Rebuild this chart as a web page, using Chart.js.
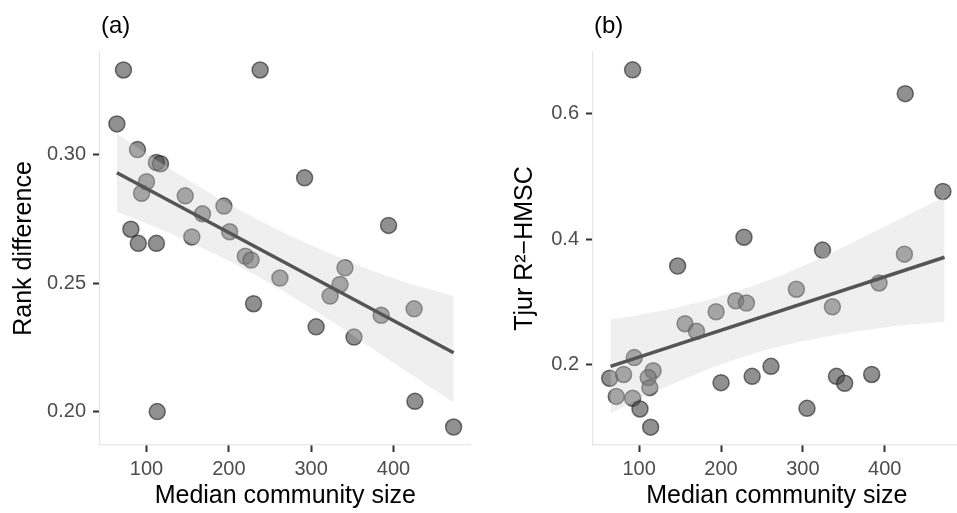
<!DOCTYPE html>
<html>
<head>
<meta charset="utf-8">
<script src="https://cdn.jsdelivr.net/npm/chart.js@4.4.1/dist/chart.umd.min.js"></script>
<style>
  html, body { margin:0; padding:0; background:#fff; overflow:hidden; }
  #wrap { position:relative; width:957px; height:513px; overflow:hidden; }
  canvas { position:absolute; top:0; }
</style>
</head>
<body>
<div id="wrap">
  <canvas id="chartA" width="480" height="513" style="left:0"></canvas>
  <canvas id="chartB" width="490" height="513" style="left:480px"></canvas>
</div>
<script>
// panel (a): rank difference vs median community size
const xA = [72,238,64,89,112,117,100,94,147,292,194,168,201,155,81,90,112,394,220,227,341,262,335,323,230,385,425,306,352,113,426,473];
const yA = [0.333,0.333,0.312,0.302,0.297,0.2965,0.2895,0.285,0.284,0.291,0.280,0.277,0.270,0.268,0.271,0.2655,0.2655,0.2725,0.2605,0.259,0.256,0.252,0.2495,0.245,0.242,0.2375,0.240,0.233,0.229,0.200,0.204,0.194];
const fitXA = [64,473];
const fitYA = [0.293,0.2229];
const bandXA = [64,100,150,220,300,400,473];
const bandHiA = [0.3082,0.3005,0.2903,0.2773,0.2648,0.2519,0.2450];
const bandLoA = [0.2778,0.2732,0.2663,0.2553,0.2402,0.2190,0.2035];
const yTicksA = [0.20,0.25,0.30];
const yTickLabelsA = ['0.20','0.25','0.30'];

// panel (b): Tjur R2 - HMSC vs median community size
const xB = [92,425,471,228,324,424,147,393,292,218,231,336,194,156,170,94,261,117,64,81,111,200,238,341,351,384,113,72,92,101,305,114];
const yB = [0.670,0.632,0.476,0.403,0.3825,0.376,0.357,0.330,0.320,0.3016,0.298,0.292,0.284,0.265,0.253,0.211,0.197,0.190,0.178,0.184,0.179,0.171,0.181,0.181,0.170,0.184,0.163,0.149,0.146,0.129,0.130,0.100];
const fitXB = [65,473];
const fitYB = [0.197,0.371];
const bandXB = [65,100,150,220,300,400,473];
const bandHiB = [0.272,0.279,0.292,0.317,0.357,0.420,0.467];
const bandLoB = [0.122,0.145,0.174,0.209,0.237,0.259,0.268];
const yTicksB = [0.2,0.4,0.6];
const yTickLabelsB = ['0.2','0.4','0.6'];

const xTicks = [100,200,300,400];
const xTickLabels = ['100','200','300','400'];

const FONT = '"Liberation Sans", Arial, sans-serif';

const zip = (xs, ys) => xs.map((x, i) => ({x: x, y: ys[i]}));

// "(a)" / "(b)" tag above the plot area
const panelLabel = {
  id: 'panelLabel',
  afterDraw(chart, args, opts) {
    const ctx = chart.ctx;
    ctx.save();
    ctx.font = '24px ' + FONT;
    ctx.fillStyle = '#000';
    ctx.textBaseline = 'middle';
    ctx.textAlign = 'left';
    ctx.fillText(opts.text, chart.chartArea.left + 1, 26);
    ctx.restore();
  }
};

function makePanel(id, cfg) {
  return new Chart(document.getElementById(id), {
    type: 'scatter',
    data: {
      datasets: [
        {
          data: zip(cfg.x, cfg.y),
          order: 3,
          pointRadius: 8,
          pointBackgroundColor: 'rgba(70,70,70,0.6)',
          pointBorderColor: 'rgba(30,30,30,0.6)',
          pointBorderWidth: 1.5,
          clip: false
        },
        {
          type: 'line',
          data: zip(cfg.bandX, cfg.bandHi),
          order: 2,
          borderWidth: 0,
          pointRadius: 0,
          tension: 0.4,
          backgroundColor: 'rgba(208,208,208,0.34)',
          fill: '+1'
        },
        {
          type: 'line',
          data: zip(cfg.bandX, cfg.bandLo),
          order: 2,
          borderWidth: 0,
          pointRadius: 0,
          tension: 0.4,
          fill: false
        },
        {
          type: 'line',
          data: zip(cfg.fitX, cfg.fitY),
          order: 1,
          borderColor: '#555555',
          borderWidth: 3.5,
          pointRadius: 0,
          fill: false
        }
      ]
    },
    options: {
      responsive: false,
      animation: false,
      events: [],
      layout: { padding: { top: 52, right: cfg.padRight, left: 0, bottom: 0 } },
      plugins: {
        legend: { display: false },
        tooltip: { enabled: false },
        panelLabel: { text: cfg.label }
      },
      scales: {
        x: {
          type: 'linear',
          min: cfg.xMin, max: cfg.xMax,
          afterFit: s => { s.height = 68; },
          afterBuildTicks: s => { s.ticks = xTicks.map(v => ({value: v})); },
          border: { display: true, color: '#e6e6e6', width: 1.2 },
          grid: { display: true, drawOnChartArea: false, drawTicks: true, tickLength: 7, tickColor: '#333', tickWidth: 2 },
          ticks: { padding: 5, color: '#4d4d4d', font: { family: FONT, size: 20 }, callback: (v, i) => xTickLabels[i] },
          title: { display: true, text: 'Median community size', color: '#000', font: { family: FONT, size: 25 }, padding: { top: 0, bottom: 2 } }
        },
        y: {
          type: 'linear',
          min: cfg.yMin, max: cfg.yMax,
          afterFit: s => { s.width = cfg.yWidth; },
          afterBuildTicks: s => { s.ticks = cfg.yTicks.map(v => ({value: v})); },
          border: { display: true, color: '#e6e6e6', width: 1.2 },
          grid: { display: true, drawOnChartArea: false, drawTicks: true, tickLength: 7, tickColor: '#333', tickWidth: 2 },
          ticks: { padding: 7, color: '#4d4d4d', font: { family: FONT, size: 20 }, callback: (v, i) => cfg.yTickLabels[i] },
          title: { display: true, text: cfg.yTitle, color: '#000', font: { family: FONT, size: 25 }, padding: { top: cfg.titlePad, bottom: 0 } }
        }
      }
    },
    plugins: [panelLabel]
  });
}

makePanel('chartA', {
  label: '(a)', x: xA, y: yA, fitX: fitXA, fitY: fitYA,
  bandX: bandXA, bandHi: bandHiA, bandLo: bandLoA,
  xMin: 43.5, xMax: 493.5, yMin: 0.187, yMax: 0.340,
  yTicks: yTicksA, yTickLabels: yTickLabelsA,
  yTitle: 'Rank difference', yWidth: 100, titlePad: 9, padRight: 5
});

makePanel('chartB', {
  label: '(b)', x: xB, y: yB, fitX: fitXB, fitY: fitYB,
  bandX: bandXB, bandHi: bandHiB, bandLo: bandLoB,
  xMin: 43.6, xMax: 492.5, yMin: 0.0715, yMax: 0.6985,
  yTicks: yTicksB, yTickLabels: yTickLabelsB,
  yTitle: 'Tjur R²−HMSC', yWidth: 113, titlePad: 30, padRight: 3
});
</script>
</body>
</html>
